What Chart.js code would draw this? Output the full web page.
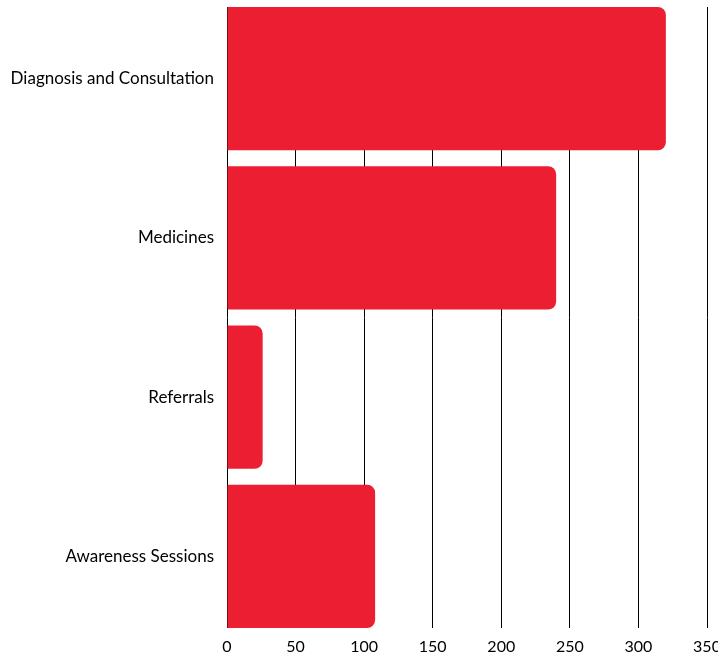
<!DOCTYPE html>
<html>
<head>
<meta charset="utf-8">
<script src="https://cdn.jsdelivr.net/npm/chart.js@4/dist/chart.umd.min.js"></script>
<style>
  html, body { margin: 0; padding: 0; background: #fff; overflow: hidden; }
  #wrap { width: 730px; height: 658px; }
</style>
</head>
<body>
<div id="wrap"><canvas id="myChart"></canvas></div>
<script>
// services delivered, one bar per category
const categories = ["Diagnosis and Consultation", "Medicines", "Referrals", "Awareness Sessions"];
const counts = [320, 240, 26, 108];
const xTicks = [0, 50, 100, 150, 200, 250, 300, 350];

// bars sit on a linear index axis so they fill the plot top to bottom
const points = counts.map((value, i) => ({ x: value, y: i }));

new Chart(document.getElementById("myChart"), {
  type: "bar",
  data: {
    datasets: [
      {
        data: points,
        backgroundColor: "#EC1F32",
        borderRadius: 8,
        barPercentage: 0.9,
        categoryPercentage: 1,
      },
    ],
  },
  options: {
    indexAxis: "y",
    responsive: true,
    maintainAspectRatio: false,
    animation: false,
    layout: { padding: { top: 7, right: 23, bottom: 0, left: 0 } },
    plugins: {
      legend: { display: false },
      tooltip: { enabled: false },
    },
    scales: {
      x: {
        type: "linear",
        min: xTicks[0],
        max: xTicks[xTicks.length - 1],
        afterBuildTicks: (scale) => {
          scale.ticks = xTicks.map((v) => ({ value: v }));
        },
        grid: { color: "#000", lineWidth: 1, drawTicks: false },
        border: { display: false },
        ticks: { color: "#000", font: { family: "Lato", size: 16 }, padding: 9, maxRotation: 0 },
        afterFit: (scale) => {
          scale.height = 30;
        },
      },
      y: {
        type: "linear",
        reverse: true,
        offset: false,
        min: -0.45,
        max: categories.length - 0.55,
        grid: { display: false, drawTicks: false },
        border: { display: false },
        ticks: {
          stepSize: 1,
          includeBounds: false,
          color: "#000",
          font: { family: "Lato", size: 17 },
          padding: 13,
          callback: (value) => categories[value],
        },
        afterFit: (scale) => {
          scale.width = 227;
          scale.paddingTop = 0;
          scale.paddingBottom = 0;
        },
      },
    },
  },
});
</script>
</body>
</html>
